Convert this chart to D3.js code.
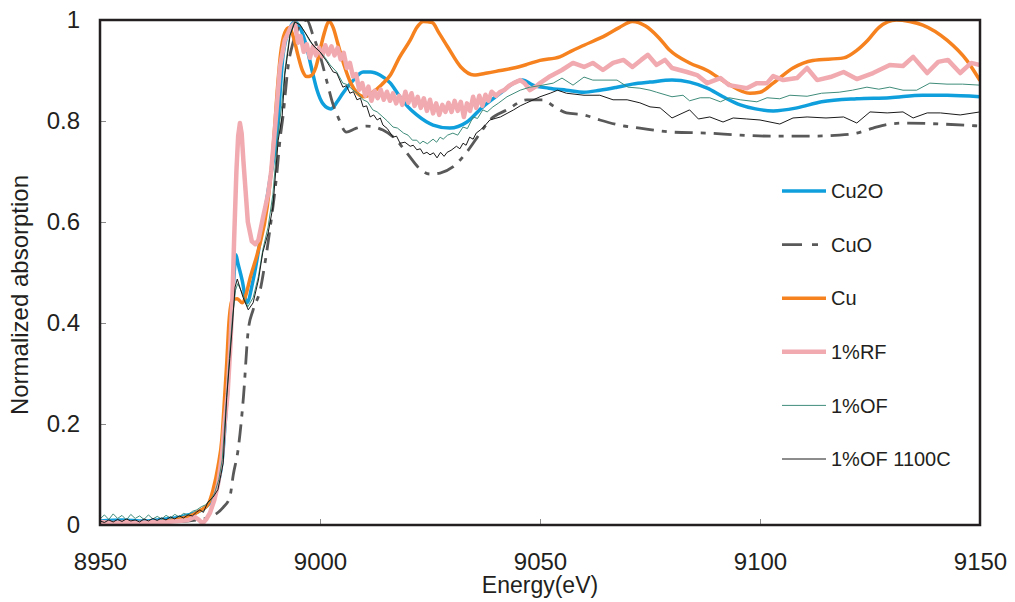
<!DOCTYPE html>
<meta charset="utf-8">
<script src="https://d3js.org/d3.v7.min.js"></script>
<style>
  body { margin: 0; background: #fff; }
  text { font-family: "Liberation Sans", Arial, sans-serif; fill: #231f20; }
</style>
<body>
<script>

// ---- data: [energy eV, normalized absorption] ----
var cu2o = [[8950,0.008],[8955,0.01],[8960,0.008],[8965,0.012],[8968,0.015],[8970,0.02],[8972,0.025],[8974,0.035],[8975.5,0.05],[8976.8,0.08],[8977.8,0.13],[8978.6,0.22],[8979.3,0.32],[8980,0.42],[8980.5,0.5],[8980.9,0.535],[8981.3,0.52],[8982.3,0.485],[8983.4,0.44],[8984.8,0.485],[8986.8,0.584],[8988.6,0.683],[8990.2,0.77],[8991.6,0.93],[8992.8,0.976],[8994.3,0.996],[8995.5,0.984],[8997,0.945],[8998.2,0.9],[8999.3,0.862],[9000.7,0.834],[9002.5,0.824],[9003.9,0.838],[9005.2,0.855],[9007.6,0.881],[9009.8,0.897],[9011.5,0.897],[9013.6,0.891],[9016,0.875],[9018,0.85],[9020,0.828],[9022,0.812],[9025.7,0.792],[9029.5,0.786],[9033.4,0.798],[9037,0.828],[9041,0.855],[9044,0.875],[9046,0.881],[9048.4,0.871],[9052,0.865],[9056,0.861],[9060,0.857],[9063.6,0.861],[9067.5,0.867],[9071,0.873],[9075,0.877],[9080,0.881],[9084,0.877],[9088,0.865],[9091.6,0.848],[9095.5,0.832],[9099,0.824],[9103,0.82],[9108.4,0.826],[9114,0.838],[9122,0.844],[9129.5,0.846],[9137,0.851],[9142.5,0.851],[9150,0.848]];

var cuo = [[8950,0.005],[8965,0.006],[8972,0.01],[8976,0.02],[8978,0.035],[8979.5,0.055],[8980.3,0.1],[8981.4,0.15],[8982.6,0.253],[8983.7,0.386],[8984.8,0.426],[8986.4,0.465],[8987.5,0.519],[8988.6,0.584],[8990.2,0.697],[8990.9,0.762],[8991.6,0.81],[8992.8,0.911],[8993.9,0.956],[8995.5,0.99],[8997,1.0],[8998.4,0.97],[9000,0.93],[9001.6,0.877],[9003,0.832],[9004,0.81],[9006,0.778],[9008,0.785],[9010.6,0.79],[9014.3,0.782],[9017.4,0.762],[9019.7,0.737],[9023.4,0.7],[9025,0.695],[9027.3,0.697],[9030.2,0.709],[9033.4,0.739],[9036.4,0.776],[9038.6,0.802],[9042.5,0.822],[9047,0.842],[9050.7,0.842],[9053,0.83],[9056,0.816],[9060,0.812],[9063.6,0.802],[9068,0.792],[9072.7,0.786],[9080,0.778],[9088,0.776],[9095.5,0.772],[9103,0.77],[9110.7,0.77],[9118,0.772],[9122,0.776],[9125.7,0.786],[9129.5,0.794],[9133,0.796],[9141,0.794],[9150,0.79]];

var cu = [[8950,0.003],[8960,0.004],[8965,0.008],[8968,0.012],[8971,0.02],[8973,0.03],[8974.5,0.04],[8975.7,0.07],[8976.8,0.115],[8977.7,0.17],[8978.3,0.25],[8978.8,0.32],[8979.3,0.4],[8980,0.445],[8981.2,0.448],[8982.3,0.44],[8983.3,0.46],[8984,0.485],[8986,0.545],[8988,0.63],[8989.3,0.74],[8990.2,0.85],[8991,0.93],[8992,0.975],[8993,0.985],[8994,0.965],[8995,0.93],[8996,0.9],[8997,0.888],[8998,0.89],[8999,0.905],[9000,0.94],[9001,0.975],[9002,0.997],[9003,0.985],[9004,0.955],[9005.5,0.91],[9007,0.875],[9008.5,0.855],[9010,0.848],[9012,0.857],[9014,0.872],[9016,0.891],[9018,0.925],[9020.5,0.96],[9022,0.985],[9023.5,0.997],[9025.5,0.995],[9027,0.975],[9029,0.947],[9032,0.907],[9035,0.891],[9038,0.895],[9041,0.9],[9044,0.905],[9047,0.912],[9050,0.92],[9054.5,0.927],[9057,0.938],[9060,0.95],[9065,0.97],[9068,0.985],[9071,0.997],[9074,0.988],[9077,0.965],[9079.5,0.94],[9084,0.915],[9088,0.9],[9092.5,0.875],[9097.7,0.855],[9100,0.857],[9103,0.875],[9107.5,0.905],[9112,0.92],[9119,0.925],[9122,0.94],[9124.5,0.96],[9127,0.985],[9131,1.0],[9134,0.997],[9137,0.99],[9142.5,0.96],[9147,0.92],[9150,0.88]];

var rf1 = [[8950,0.006],[8953,0.004],[8956,0.006],[8959,0.004],[8962,0.006],[8965,0.006],[8968,0.008],[8970,0.01],[8971.5,0.016],[8972.5,0.01],[8973.3,0.003],[8974.2,0.012],[8975,0.024],[8976,0.05],[8976.8,0.08],[8977.7,0.135],[8978.3,0.2],[8979,0.26],[8979.6,0.35],[8980.1,0.45],[8980.5,0.57],[8981,0.7],[8981.4,0.77],[8981.8,0.796],[8982.2,0.775],[8982.6,0.72],[8983.1,0.66],[8983.6,0.6],[8984.5,0.562],[8985.3,0.556],[8986,0.564],[8987,0.607],[8988.2,0.655],[8988.9,0.7],[8989.8,0.788],[8990.9,0.907],[8992,0.96],[8993.3,0.985],[8994.3,0.994],
  [8995,0.955],[8995.6,0.968],[8996.3,0.937],[8997,0.952],[8997.7,0.925],[8998.4,0.948],[8999.1,0.93],[8999.8,0.945],[9000.5,0.928],[9001.2,0.95],[9001.9,0.932],[9002.6,0.948],[9003.3,0.93],[9004,0.945],[9004.7,0.922],[9005.4,0.935],[9006.1,0.905],[9006.8,0.915],[9007.5,0.888],[9008.2,0.893],[9008.9,0.862],[9009.6,0.875],[9010.3,0.85],[9011,0.868],[9011.7,0.84],[9012.4,0.86],[9013.1,0.845],[9013.8,0.862],[9014.5,0.842],[9015.2,0.858],[9015.9,0.84],[9016.6,0.855],[9017.3,0.835],[9018,0.85],[9018.7,0.832],[9019.4,0.858],[9020.1,0.836],[9020.8,0.855],[9021.5,0.83],[9022.2,0.848],[9022.9,0.826],[9023.6,0.845],[9024.3,0.82],[9025,0.842],[9025.7,0.815],[9026.4,0.835],[9027.1,0.812],[9027.8,0.832],[9028.5,0.818],[9029.2,0.836],[9029.9,0.818],[9030.6,0.84],[9031.3,0.82],[9032,0.838],[9032.7,0.808],[9033.4,0.835],[9034.1,0.82],[9034.8,0.848],[9035.5,0.826],[9036.2,0.85],[9036.9,0.83],[9037.6,0.852],[9038.3,0.84],[9039,0.858],[9040,0.85],[9041,0.858],[9042,0.862],[9043,0.87],[9044,0.875],
  [9045.5,0.881],[9046.5,0.875],[9047.7,0.861],[9049,0.868],[9050,0.875],[9052,0.887],[9055,0.901],[9057.5,0.915],[9060,0.907],[9062,0.915],[9064.3,0.901],[9066.6,0.915],[9069,0.921],[9071,0.907],[9073,0.921],[9074.5,0.931],[9076.5,0.911],[9078.4,0.921],[9080,0.905],[9083.4,0.897],[9085.7,0.891],[9088,0.875],[9091,0.885],[9093,0.871],[9097,0.865],[9099.3,0.875],[9101.6,0.875],[9103,0.889],[9105.3,0.881],[9108.4,0.885],[9110.7,0.905],[9113,0.881],[9116,0.887],[9119,0.897],[9122,0.883],[9125.7,0.895],[9129.5,0.911],[9132.5,0.909],[9134.8,0.927],[9138,0.895],[9140.5,0.917],[9142.7,0.921],[9145.5,0.895],[9148,0.915],[9150,0.911]];

var of1 = [[8950,0.012],[8951,0.02],[8952,0.011],[8953,0.022],[8954,0.013],[8955,0.019],[8956,0.01],[8957,0.021],[8958,0.013],[8959,0.018],[8960,0.011],[8961,0.02],[8962,0.012],[8963,0.017],[8964,0.012],[8965,0.019],[8966,0.014],[8967,0.021],[8968,0.016],[8969,0.023],[8970,0.02],[8971,0.027],[8972,0.03],[8973,0.036],[8974,0.04],[8975,0.048],[8976,0.062],[8977,0.09],[8977.8,0.13],[8978.6,0.23],[8979.4,0.33],[8980.1,0.41],[8980.8,0.465],[8981.3,0.478],[8982.4,0.458],[8983.6,0.432],[8984.8,0.45],[8986,0.492],[8987,0.545],[8988.2,0.59],[8989.3,0.655],[8990.4,0.77],[8991.3,0.83],[8992,0.9],[8993.1,0.968],[8994.2,0.997],[8995.4,0.992],[8996.6,0.975],[8997.7,0.958],[8999,0.945],[9000,0.937],[9001.2,0.925],[9002.3,0.911],[9003.8,0.897],[9005.2,0.875],[9006.2,0.872],[9007.5,0.861],[9008.5,0.855],[9009.8,0.842],[9010.8,0.838],[9012,0.822],[9013,0.818],[9014.3,0.808],[9015.3,0.8],[9016.6,0.788],[9017.6,0.786],[9019,0.776],[9020,0.772],[9021,0.762],[9022,0.762],[9022.7,0.755],[9023.4,0.76],[9024.4,0.755],[9025.7,0.764],[9026.5,0.758],[9027.3,0.768],[9028,0.764],[9029,0.772],[9030.2,0.776],[9031.3,0.772],[9032.5,0.788],[9033.5,0.785],[9034.8,0.808],[9035.8,0.805],[9037,0.822],[9038,0.818],[9039.3,0.828],[9040.5,0.835],[9042.5,0.848],[9045.5,0.861],[9047.7,0.867],[9050,0.87],[9053,0.875],[9055,0.885],[9057.5,0.871],[9060,0.887],[9062,0.881],[9065,0.881],[9067.5,0.881],[9070,0.867],[9072.7,0.865],[9075,0.861],[9076.5,0.857],[9080,0.848],[9082.5,0.851],[9084,0.84],[9086.4,0.846],[9088.6,0.846],[9091,0.838],[9093,0.846],[9095.5,0.842],[9099.3,0.838],[9101.6,0.846],[9104.5,0.844],[9106.8,0.851],[9110.7,0.849],[9114,0.855],[9118,0.857],[9121,0.861],[9124.3,0.867],[9127,0.863],[9129.5,0.867],[9132.5,0.861],[9135.6,0.861],[9138.6,0.875],[9142.5,0.873],[9146,0.873],[9150,0.871]];

var of1100 = [[8950,0.008],[8951,0.005],[8952,0.01],[8953,0.006],[8954,0.011],[8955,0.007],[8956,0.012],[8957,0.008],[8958,0.01],[8959,0.006],[8960,0.012],[8961,0.008],[8962,0.013],[8963,0.009],[8964,0.014],[8965,0.01],[8966,0.016],[8967,0.012],[8968,0.018],[8969,0.014],[8970,0.02],[8971,0.018],[8972,0.026],[8972.7,0.03],[8973.5,0.025],[8974.5,0.045],[8975.7,0.055],[8976.8,0.07],[8977.5,0.1],[8978,0.123],[8978.8,0.253],[8979.5,0.33],[8980,0.386],[8980.7,0.471],[8981.2,0.487],[8982.5,0.451],[8983.7,0.426],[8984.8,0.44],[8986,0.485],[8987,0.54],[8988.2,0.578],[8989.3,0.63],[8990.5,0.762],[8991.4,0.81],[8992,0.891],[8993.2,0.97],[8994.3,0.996],[8995.5,0.99],[8997,0.97],[8998.4,0.95],[9000,0.937],[9001.6,0.917],[9003,0.897],[9003.8,0.895],[9005.2,0.867],[9006,0.87],[9006.8,0.855],[9007.6,0.858],[9008.4,0.842],[9009.2,0.845],[9009.8,0.828],[9010.6,0.83],[9011.4,0.808],[9012.2,0.812],[9013,0.802],[9013.7,0.806],[9014.3,0.792],[9015.3,0.785],[9016.6,0.768],[9017.4,0.77],[9018.2,0.756],[9019.3,0.758],[9020.5,0.75],[9021.2,0.752],[9022,0.743],[9022.8,0.745],[9023.5,0.735],[9024.3,0.738],[9025,0.733],[9025.8,0.737],[9026.6,0.727],[9027.4,0.738],[9028.2,0.73],[9028.9,0.738],[9029.8,0.742],[9031,0.75],[9031.8,0.745],[9032.5,0.756],[9033.2,0.752],[9034,0.768],[9034.8,0.764],[9035.5,0.776],[9036.4,0.782],[9037.4,0.79],[9038.6,0.802],[9039.8,0.805],[9041,0.808],[9042.5,0.815],[9044,0.822],[9045.5,0.83],[9047,0.836],[9050,0.848],[9052.3,0.855],[9054,0.861],[9056,0.855],[9060,0.851],[9063.6,0.851],[9066.6,0.842],[9069.8,0.842],[9072.7,0.836],[9075,0.828],[9077.3,0.826],[9080,0.806],[9084,0.822],[9086,0.804],[9088.6,0.808],[9091.6,0.798],[9093.9,0.806],[9097,0.804],[9100,0.802],[9104.5,0.794],[9107.5,0.806],[9110.7,0.808],[9115,0.806],[9119,0.808],[9122,0.796],[9125,0.818],[9128.9,0.816],[9132.5,0.818],[9134.8,0.806],[9138,0.816],[9141,0.816],[9145.5,0.812],[9150,0.818]];

var xTicks = [8950, 9000, 9050, 9100, 9150];
var yTicks = [0, 0.2, 0.4, 0.6, 0.8, 1];

// series styling, in legend / draw order
var series = [
    {name: "Cu2O",        data: cu2o,   color: "#0f9fdc", width: 3.5, dash: null,        smooth: true},
    {name: "CuO",         data: cuo,    color: "#595959", width: 2.8, dash: "18,8,5,8", smooth: true},
    {name: "Cu",          data: cu,     color: "#f6821f", width: 3.5, dash: null,        smooth: true},
    {name: "1%RF",        data: rf1,    color: "#f0aab0", width: 4.5, dash: null,        smooth: false},
    {name: "1%OF",        data: of1,    color: "#3f8c7a", width: 1,   dash: null,        smooth: false},
    {name: "1%OF 1100C",  data: of1100, color: "#1a1a1a", width: 1,   dash: null,        smooth: false}
];

var width = 1015, height = 602;
var pLeft = 100, pRight = 980, pTop = 20, pBottom = 525;

var svg = d3.select("body").append("svg")
    .attr("width", width)
    .attr("height", height);

var x = d3.scaleLinear().domain([8950, 9150]).range([pLeft, pRight]);
var y = d3.scaleLinear().domain([0, 1]).range([pBottom, pTop]);

// inward tick marks
var xAxis = svg.append("g")
    .attr("transform", "translate(0," + pBottom + ")")
    .call(d3.axisBottom(x).tickValues(xTicks).tickSize(-6).tickPadding(28).tickFormat(d3.format("d")));
var yAxis = svg.append("g")
    .attr("transform", "translate(" + pLeft + ",0)")
    .call(d3.axisLeft(y).tickValues(yTicks).tickSize(-6).tickPadding(20).tickFormat(d3.format("~g")));

[xAxis, yAxis].forEach(function(a) {
    a.select(".domain").remove();
    a.selectAll(".tick line").attr("stroke", "#8a8a8a");
    a.selectAll(".tick text")
        .style("font-family", "'Liberation Sans', Arial, sans-serif")
        .style("font-size", "24px")
        .attr("fill", "#231f20");
});

// clip lines to the plot box
svg.append("defs").append("clipPath").attr("id", "plot")
    .append("rect")
    .attr("x", pLeft).attr("y", pTop)
    .attr("width", pRight - pLeft).attr("height", pBottom - pTop);

var lines = svg.append("g").attr("clip-path", "url(#plot)");

series.forEach(function(s) {
    var line = d3.line()
        .x(function(d) { return x(d[0]); })
        .y(function(d) { return y(d[1]); })
        .curve(s.smooth ? d3.curveMonotoneX : d3.curveLinear);
    lines.append("path")
        .datum(s.data)
        .attr("fill", "none")
        .attr("stroke", s.color)
        .attr("stroke-width", s.width)
        .attr("stroke-linejoin", "round")
        .attr("stroke-dasharray", s.dash)
        .attr("d", line);
});

// frame
svg.append("rect")
    .attr("x", pLeft).attr("y", pTop)
    .attr("width", pRight - pLeft).attr("height", pBottom - pTop)
    .attr("fill", "none")
    .attr("stroke", "#231f20")
    .attr("stroke-width", 2.5);

// axis titles
svg.append("text")
    .attr("x", 540).attr("y", 593)
    .attr("text-anchor", "middle")
    .style("font-size", "23px")
    .text("Energy(eV)");

svg.append("text")
    .attr("transform", "translate(28,295) rotate(-90)")
    .attr("text-anchor", "middle")
    .style("font-size", "24px")
    .text("Normalized absorption");

// legend
var legend = svg.append("g");
series.forEach(function(s, i) {
    var ly = 191 + i * 53.6;
    legend.append("line")
        .attr("x1", 782).attr("x2", 826)
        .attr("y1", ly).attr("y2", ly)
        .attr("stroke", s.color)
        .attr("stroke-width", s.width)
        .attr("stroke-dasharray", s.dash ? "20,10,6,100" : null);
    legend.append("text")
        .attr("x", 831).attr("y", ly)
        .attr("dy", "0.36em")
        .style("font-size", "20px")
        .text(s.name);
});

</script>
</body>
